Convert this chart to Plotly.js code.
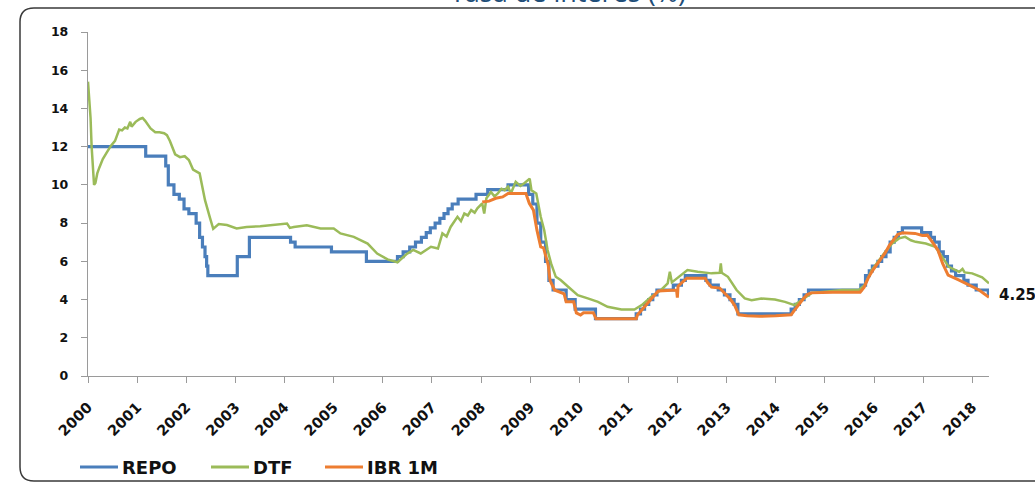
<!DOCTYPE html>
<html>
<head>
<meta charset="utf-8">
<script src="https://cdn.plot.ly/plotly-3.0.1.min.js"></script>
<style>html,body{margin:0;padding:0;background:#fff;}#chart{width:1035px;height:482px;}</style>
</head>
<body>
<div id="chart"></div>
<script>
// ---------------- DATA ----------------
const yearLabels = ["2000","2001","2002","2003","2004","2005","2006","2007","2008","2009","2010","2011","2012","2013","2014","2015","2016","2017","2018"];

const repoDates = ["2000-01-01","2001-03-05","2001-08-01","2001-08-20","2001-10-01","2001-11-10","2001-12-15","2002-01-20","2002-03-15","2002-04-10","2002-05-01","2002-05-20","2002-06-01","2002-06-10","2003-01-15","2003-04-15","2004-02-15","2004-03-20","2004-12-15","2005-09-01","2006-04-20","2006-06-01","2006-07-20","2006-09-01","2006-10-15","2006-11-20","2006-12-20","2007-01-25","2007-03-01","2007-04-01","2007-05-01","2007-06-01","2007-07-15","2007-11-25","2008-02-20","2008-07-20","2008-12-20","2009-01-20","2009-02-20","2009-03-20","2009-04-25","2009-05-20","2009-06-20","2009-09-25","2009-12-01","2010-05-01","2011-02-28","2011-04-01","2011-05-01","2011-06-01","2011-07-01","2011-08-01","2011-12-01","2012-01-30","2012-02-28","2012-07-30","2012-08-30","2012-10-30","2012-12-15","2013-01-25","2013-02-25","2013-03-25","2014-04-25","2014-05-25","2014-06-25","2014-07-30","2014-09-01","2015-09-25","2015-10-30","2015-11-27","2015-12-20","2016-01-30","2016-02-27","2016-03-30","2016-04-30","2016-05-30","2016-06-30","2016-07-30","2016-12-20","2017-02-25","2017-03-25","2017-04-30","2017-05-30","2017-06-30","2017-07-30","2017-08-30","2017-10-30","2017-11-30","2018-01-30","2018-04-30","2018-05-05"];
const repoValues = [12.0,11.5,11.0,10.0,9.5,9.25,8.75,8.5,8.0,7.25,6.75,6.25,5.75,5.25,6.25,7.25,7.0,6.75,6.5,6.0,6.25,6.5,6.75,7.0,7.25,7.5,7.75,8.0,8.25,8.5,8.75,9.0,9.25,9.5,9.75,10.0,9.5,9.0,8.0,7.0,6.0,5.0,4.5,4.0,3.5,3.0,3.25,3.5,3.75,4.0,4.25,4.5,4.75,5.0,5.25,5.0,4.75,4.5,4.25,4.0,3.75,3.25,3.5,3.75,4.0,4.25,4.5,4.75,5.25,5.5,5.75,6.0,6.25,6.5,7.0,7.25,7.5,7.75,7.5,7.25,7.0,6.5,6.25,5.75,5.5,5.25,5.0,4.75,4.5,4.25,4.25];

const dtfDates = ["2000-01-01","2000-01-10","2000-01-20","2000-01-28","2000-02-05","2000-02-15","2000-02-25","2000-03-10","2000-03-25","2000-04-20","2000-05-20","2000-06-20","2000-07-20","2000-08-05","2000-08-20","2000-09-10","2000-10-01","2000-10-20","2000-11-10","2000-11-20","2000-12-20","2001-01-20","2001-02-10","2001-03-01","2001-04-10","2001-05-15","2001-06-15","2001-07-20","2001-08-10","2001-09-01","2001-10-10","2001-11-15","2001-12-20","2002-01-20","2002-02-20","2002-04-10","2002-05-01","2002-05-20","2002-06-25","2002-07-20","2002-08-30","2002-10-30","2003-01-10","2003-03-25","2003-07-05","2003-10-10","2004-01-20","2004-02-10","2004-03-10","2004-06-15","2004-09-25","2005-01-01","2005-02-20","2005-05-30","2005-09-10","2005-11-20","2006-02-05","2006-04-20","2006-07-01","2006-08-15","2006-10-10","2006-12-25","2007-02-15","2007-03-20","2007-04-20","2007-05-20","2007-06-15","2007-07-10","2007-08-05","2007-08-30","2007-09-25","2007-10-20","2007-11-15","2007-12-05","2008-01-10","2008-01-25","2008-02-10","2008-03-15","2008-04-10","2008-05-05","2008-06-01","2008-06-25","2008-07-20","2008-08-10","2008-09-15","2008-10-20","2008-11-20","2008-12-28","2009-01-10","2009-02-15","2009-03-20","2009-04-15","2009-05-10","2009-06-05","2009-07-10","2009-08-15","2009-10-10","2009-12-20","2010-03-05","2010-05-20","2010-07-30","2010-11-10","2011-02-15","2011-04-10","2011-06-20","2011-09-01","2011-10-20","2011-11-05","2011-11-20","2012-01-25","2012-03-15","2012-05-30","2012-09-10","2012-11-10","2012-11-18","2012-11-25","2013-01-10","2013-03-15","2013-05-15","2013-07-05","2013-09-15","2013-12-25","2014-03-10","2014-05-20","2014-08-10","2014-09-25","2015-01-01","2015-05-10","2015-09-10","2015-10-25","2015-12-15","2016-02-05","2016-03-25","2016-05-15","2016-07-05","2016-08-20","2016-10-01","2016-11-05","2017-01-20","2017-04-01","2017-05-20","2017-07-10","2017-09-25","2017-10-20","2017-11-05","2017-12-31","2018-03-15","2018-05-05"];
const dtfValues = [15.4,14.6,13.5,12.0,11.1,10.0,10.1,10.6,10.9,11.35,11.7,12.05,12.3,12.6,12.9,12.85,13.0,12.95,13.3,13.05,13.3,13.45,13.5,13.35,12.95,12.75,12.75,12.7,12.6,12.3,11.6,11.45,11.5,11.3,10.8,10.6,9.9,9.2,8.3,7.7,7.95,7.9,7.72,7.8,7.83,7.89,7.98,7.75,7.8,7.89,7.72,7.72,7.46,7.28,6.93,6.41,6.1,5.95,6.4,6.6,6.41,6.76,6.67,7.46,7.3,7.8,8.1,8.33,8.1,8.5,8.4,8.68,8.55,8.77,9.03,8.5,9.3,9.63,9.4,9.55,9.8,9.72,9.9,9.55,10.16,9.95,10.1,10.33,9.72,9.55,8.33,7.63,6.59,5.89,5.19,5.02,4.67,4.23,4.06,3.88,3.62,3.48,3.48,3.71,4.15,4.5,4.85,5.45,4.9,5.28,5.54,5.45,5.37,5.4,5.89,5.4,5.19,4.5,4.06,3.97,4.06,4.0,3.88,3.71,4.15,4.35,4.41,4.5,4.5,4.76,5.54,6.06,6.5,6.93,7.2,7.28,7.1,7.02,6.93,6.76,6.24,5.71,5.45,5.6,5.42,5.37,5.16,4.85];

const ibrDates = ["2008-01-10","2008-03-01","2008-04-20","2008-06-10","2008-07-20","2008-11-30","2008-12-25","2009-01-25","2009-02-20","2009-03-20","2009-04-10","2009-05-15","2009-05-28","2009-07-01","2009-09-10","2009-09-25","2009-11-20","2009-12-10","2010-01-10","2010-02-01","2010-04-15","2010-05-05","2011-02-28","2011-03-10","2011-04-10","2011-05-10","2011-06-10","2011-07-10","2011-08-10","2011-12-25","2011-12-31","2012-01-05","2012-02-10","2012-03-10","2012-07-25","2012-08-10","2012-09-10","2012-11-10","2012-12-20","2013-01-30","2013-03-01","2013-04-01","2013-06-01","2013-09-01","2014-01-01","2014-04-25","2014-05-20","2014-06-20","2014-07-20","2014-08-20","2014-09-20","2015-03-01","2015-09-20","2015-10-20","2015-11-20","2015-12-20","2016-01-25","2016-02-25","2016-03-25","2016-04-25","2016-05-25","2016-06-25","2016-08-01","2016-11-01","2016-12-25","2017-02-01","2017-03-01","2017-04-20","2017-05-25","2017-07-05","2017-09-25","2017-12-05","2018-02-20","2018-05-05"];
const ibrValues = [9.1,9.15,9.3,9.37,9.55,9.55,9.04,8.68,7.63,6.76,6.7,5.8,5.0,4.5,4.3,3.88,3.88,3.3,3.19,3.31,3.31,3.0,3.0,3.2,3.45,3.7,3.95,4.2,4.45,4.5,4.1,4.7,4.95,5.12,5.12,4.9,4.65,4.6,4.3,4.0,3.7,3.2,3.15,3.12,3.15,3.2,3.45,3.75,4.0,4.25,4.35,4.38,4.38,4.65,5.15,5.5,5.85,6.15,6.45,6.85,7.15,7.4,7.5,7.46,7.35,7.37,7.1,6.59,5.89,5.28,5.02,4.76,4.5,4.12];

const seriesNames = ["REPO","DTF","IBR 1M"];
const lastLabel = "4.25";
const chartTitle = "Tasa de interés (%)";

// ---------------- STYLE ----------------
const colors = ["#4A7EBB","#9BBB59","#ED7D31"];
const FONT = "DejaVu Sans";
const W = 1035, H = 482;
const M = {l:88, r:46, t:32, b:106};
const PW = W - M.l - M.r, PH = H - M.t - M.b;
const px = x => (x - M.l) / PW;            // pixel -> paper x
const py = y => (H - M.b - y) / PH;        // pixel -> paper y

const traces = [
  {x: repoDates, y: repoValues, name: seriesNames[0], type: "scatter", mode: "lines",
   line: {color: colors[0], width: 3.2, shape: "hv"}, showlegend: false, hoverinfo: "skip"},
  {x: dtfDates, y: dtfValues, name: seriesNames[1], type: "scatter", mode: "lines",
   line: {color: colors[1], width: 2.5}, showlegend: false, hoverinfo: "skip"},
  {x: ibrDates, y: ibrValues, name: seriesNames[2], type: "scatter", mode: "lines",
   line: {color: colors[2], width: 3}, showlegend: false, hoverinfo: "skip"}
];

// rounded frame
function framePath(){
  const L=20, T=8, R=1045, B=481, r=14;
  const P=(x,y)=>px(x)+","+py(y);
  return "M"+P(R,T)+" L"+P(L+r,T)+" Q"+P(L,T)+" "+P(L,T+r)+" L"+P(L,B-r)+" Q"+P(L,B)+" "+P(L+r,B)+" L"+P(R,B);
}

const shapes = [
  {type:"path", xref:"paper", yref:"paper", path: framePath(), line:{color:"#3a3a3a", width:1.5}}
];
const annotations = [
  {xref:"paper", yref:"paper", x:px(568), y:py(-9), text: chartTitle, showarrow:false,
   xanchor:"center", yanchor:"middle", font:{family:"Open Sans", size:27, color:"#1F4E79"}},
  {xref:"x", yref:"y", x: repoDates[repoDates.length-1], y: repoValues[repoValues.length-1],
   text: lastLabel, showarrow:false, xanchor:"left", yanchor:"middle", xshift:8,
   font:{family:FONT, size:15, color:"#111", weight:"bold"}}
];
// legend (manual)
const legX = [80, 211, 325];
seriesNames.forEach((n,i)=>{
  shapes.push({type:"line", xref:"paper", yref:"paper", x0:px(legX[i]), x1:px(legX[i]+38),
    y0:py(467), y1:py(467), line:{color:colors[i], width:3}});
  annotations.push({xref:"paper", yref:"paper", x:px(legX[i]+40), y:py(467), text:n,
    showarrow:false, xanchor:"left", yanchor:"middle",
    font:{family:FONT, size:18, color:"#111", weight:"bold"}});
});

const layout = {
  width: W, height: H,
  margin: M,
  paper_bgcolor: "#fff", plot_bgcolor: "#fff",
  showlegend: false,
  xaxis: {
    type: "date", range: ["2000-01-01", "2018-05-05"],
    tickmode: "array", tickvals: yearLabels.map(y => y + "-01-01"), ticktext: yearLabels,
    tickangle: -45, ticks: "outside", ticklen: 6, tickcolor: "#9a9a9a",
    showline: true, linecolor: "#9a9a9a", linewidth: 1.2,
    showgrid: false, zeroline: false, ticklabelstandoff: 10,
    tickfont: {family: FONT, size: 14.5, color: "#111", weight: "bold"}
  },
  yaxis: {
    range: [0, 18], dtick: 2, tick0: 0,
    ticks: "outside", ticklen: 6, tickcolor: "#9a9a9a",
    showline: true, linecolor: "#9a9a9a", linewidth: 1.2,
    showgrid: false, zeroline: false, ticklabelstandoff: 10,
    tickfont: {family: FONT, size: 12.5, color: "#111", weight: "bold"}
  },
  shapes: shapes,
  annotations: annotations
};

Plotly.newPlot("chart", traces, layout, {staticPlot: true, displayModeBar: false});
</script>
</body>
</html>
